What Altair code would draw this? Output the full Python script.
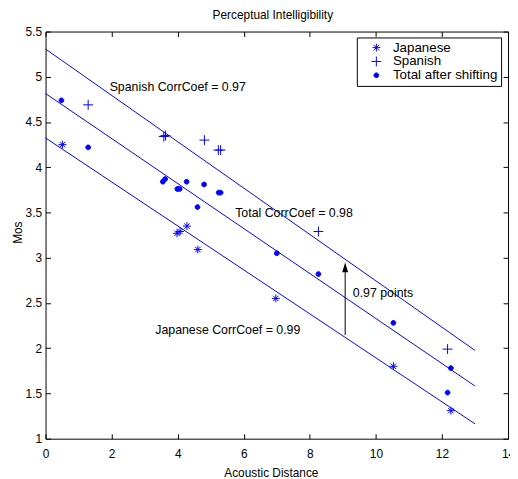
import altair as alt
import pandas as pd

# ---------------- data ----------------
series_names = ["Japanese", "Spanish", "Total after shifting"]

jp_x = [0.51, 3.98, 4.07, 4.28, 4.61, 6.97, 10.53, 12.27]
jp_y = [4.25, 3.27, 3.29, 3.35, 3.09, 2.55, 1.80, 1.31]

sp_x = [1.29, 3.58, 3.63, 4.81, 5.23, 5.30, 8.26, 12.17]
sp_y = [4.69, 4.34, 4.35, 4.30, 4.19, 4.19, 3.29, 1.99]

tot_x = [0.48, 1.29, 3.55, 3.62, 3.99, 4.06, 4.27, 4.80, 5.24, 5.30, 4.60, 7.00, 8.26, 10.53, 12.27, 12.17]
tot_y = [4.74, 4.22, 3.84, 3.87, 3.76, 3.76, 3.84, 3.81, 3.72, 3.72, 3.56, 3.05, 2.82, 2.28, 1.78, 1.51]

# fitted lines (x from 0 to 13)
line_x = [0, 13]
spanish_fit = [5.307, 1.976]
total_fit = [4.815, 1.582]
japanese_fit = [4.324, 1.164]

# annotations
label_text = ["Spanish CorrCoef = 0.97", "Total CorrCoef = 0.98",
              "Japanese CorrCoef = 0.99", "0.97 points"]
label_x = [1.94, 5.74, 3.32, 9.30]
label_y = [4.89, 3.49, 2.20, 2.61]

arrow_x = [9.07]
arrow_y0 = [2.147]
arrow_y1 = [2.84]
arrow_head_y = [2.894]

x_ticks = [0, 2, 4, 6, 8, 10, 12, 14]
y_ticks = [1, 1.5, 2, 2.5, 3, 3.5, 4, 4.5, 5, 5.5]

# ---------------- styling ----------------
BLUE = "#0000ff"
FONT = "Liberation Sans"
ASTERISK = "M-0.8,0H0.8M0,-0.8V0.8M-0.55,-0.55L0.55,0.55M-0.55,0.55L0.55,-0.55"
PLUS = "M-1,0H1M0,-1V1"
DOT = "M-0.48,0A0.48,0.48 0 1,0 0.48,0A0.48,0.48 0 1,0 -0.48,0Z"
HEAD = "M0,-1L-0.6,1L0.6,1Z"

pts = pd.DataFrame({
    "x": jp_x + sp_x + tot_x,
    "y": jp_y + sp_y + tot_y,
    "series": [series_names[0]] * len(jp_x) + [series_names[1]] * len(sp_x)
              + [series_names[2]] * len(tot_x),
})

lines_df = pd.DataFrame({
    "x": line_x * 3,
    "y": spanish_fit + total_fit + japanese_fit,
    "line": ["sp", "sp", "tot", "tot", "jp", "jp"],
})

labels_df = pd.DataFrame({"x": label_x, "y": label_y, "text": label_text})
arrow_df = pd.DataFrame({"x": arrow_x, "y": arrow_y0, "y2": arrow_y1, "yh": arrow_head_y})

xs = alt.Scale(domain=[0, 14], nice=False, zero=False)
ys = alt.Scale(domain=[1, 5.5], nice=False, zero=False)

x_axis = alt.Axis(values=x_ticks, offset=-5, tickSize=5, domain=False, grid=False,
                  labelPadding=10, title="Acoustic Distance", titleX=228, titleY=39,
                  titleBaseline="middle", titleAlign="center", labelFlush=False)
y_axis = alt.Axis(values=y_ticks, offset=-5, tickSize=5, domain=False, grid=False,
                  labelPadding=4, labelExpr="datum.value + ''", title="Mos",
                  titleX=-33, titleY=203, titleBaseline="middle", titleAlign="center",
                  titleAngle=270, labelFlush=False)
x_top = alt.Axis(values=x_ticks, orient="top", offset=-5, tickSize=5, domain=False,
                 grid=False, labels=False, title=None)
y_right = alt.Axis(values=y_ticks, orient="right", offset=-5, tickSize=5, domain=False,
                   grid=False, labels=False, title=None)

lines = alt.Chart(lines_df).mark_line(color=BLUE, strokeWidth=1).encode(
    x=alt.X("x:Q", scale=xs, axis=x_axis),
    y=alt.Y("y:Q", scale=ys, axis=y_axis),
    detail="line:N",
)

frame_axes = alt.Chart(lines_df).mark_line(opacity=0).encode(
    x=alt.X("x:Q", scale=xs, axis=x_top),
    y=alt.Y("y:Q", scale=ys, axis=y_right),
    detail="line:N",
)

points = alt.Chart(pts).mark_point(filled=True, strokeWidth=1, opacity=1, size=100).encode(
    x=alt.X("x:Q", scale=xs, axis=None),
    y=alt.Y("y:Q", scale=ys, axis=None),
    shape=alt.Shape("series:N", scale=alt.Scale(domain=series_names,
                                                 range=[ASTERISK, PLUS, DOT]), title=None),
    fill=alt.Fill("series:N", scale=alt.Scale(domain=series_names,
                                               range=["transparent", "transparent", BLUE]), title=None),
    stroke=alt.Stroke("series:N", scale=alt.Scale(domain=series_names,
                                                   range=[BLUE, BLUE, BLUE]), title=None),
)

texts = alt.Chart(labels_df).mark_text(align="left", baseline="middle", font=FONT,
                                       fontSize=12.5, color="black").encode(
    x=alt.X("x:Q", scale=xs, axis=None),
    y=alt.Y("y:Q", scale=ys, axis=None),
    text="text:N",
)

shaft = alt.Chart(arrow_df).mark_rule(color="black", strokeWidth=1).encode(
    x=alt.X("x:Q", scale=xs, axis=None),
    y=alt.Y("y:Q", scale=ys, axis=None),
    y2="y2:Q",
)
head = alt.Chart(arrow_df).mark_point(shape=HEAD, filled=True, color="black", size=100,
                                      opacity=1).encode(
    x=alt.X("x:Q", scale=xs, axis=None),
    y=alt.Y("yh:Q", scale=ys, axis=None),
)

chart = alt.layer(lines, frame_axes, points, texts, shaft, head).resolve_axis(
    x="independent", y="independent"
).properties(
    width=468, height=412,
    title=alt.TitleParams("Perceptual Intelligibility", fontSize=12, fontWeight="normal",
                          font=FONT, offset=4, anchor="middle", dx=-4, color="black"),
    autosize=alt.AutoSizeParams(type="none"),
    padding={"left": 38, "top": 21, "right": 2, "bottom": 40},
).configure_view(
    stroke="black", strokeWidth=1
).configure_axis(
    labelFont=FONT, labelFontSize=12, labelColor="black", tickColor="black",
    titleFont=FONT, titleFontSize=12, titleFontWeight="normal", titleColor="black",
).configure_legend(
    orient="none", legendX=315, legendY=6, padding=3.5, strokeColor="black",
    fillColor="white", cornerRadius=0, labelFont=FONT, labelFontSize=13.5,
    labelColor="black", symbolSize=100, symbolStrokeWidth=1,
    symbolOffset=9.5, labelOffset=10, rowPadding=-1.5,
)

chart.save("out.html", embed_options={"renderer": "svg", "actions": False})
